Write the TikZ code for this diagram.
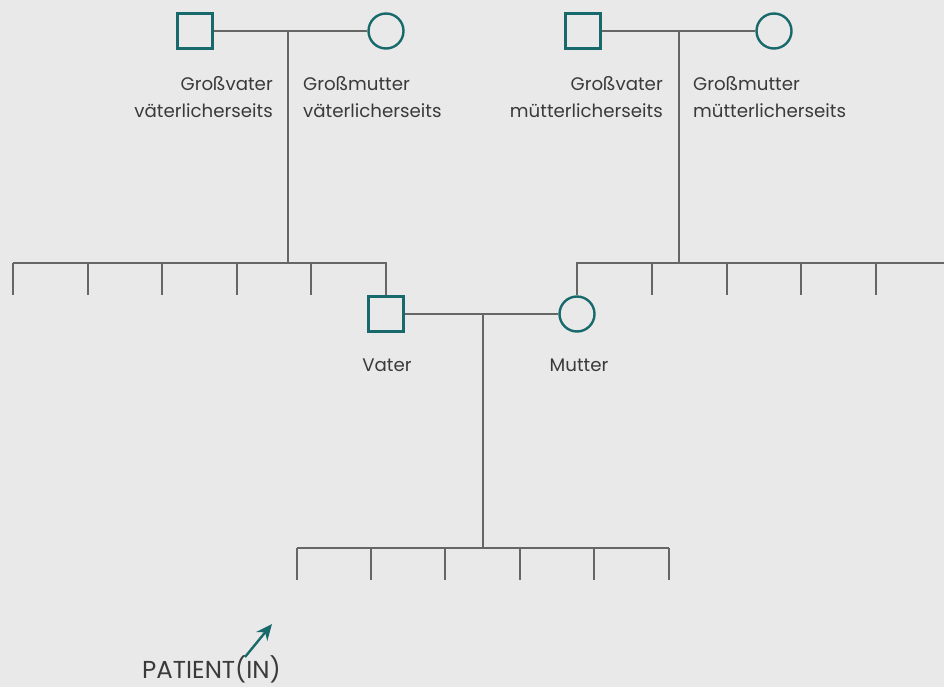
\documentclass[tikz,border=0pt]{standalone}
\usepackage{fontspec}
\setmainfont{Poppins}
\usetikzlibrary{arrows.meta}
\definecolor{bg}{HTML}{E9E9E9}
\definecolor{teal}{HTML}{17696B}
\definecolor{ln}{HTML}{666666}
\definecolor{tx}{HTML}{3A3A3A}
\begin{document}
\begin{tikzpicture}[x=1pt,y=-1pt,
  male/.style={draw=teal,line width=2.4pt,minimum size=35pt,inner sep=0pt},
  female/.style={draw=teal,line width=2.4pt,circle,minimum size=35pt,inner sep=0pt},
  rel/.style={draw=ln,line width=1.3pt},
  lbl/.style={text=tx,font=\fontsize{18.2}{27}\selectfont,inner sep=0pt},
  tick/.style={rel}]
\fill[bg] (0,0) rectangle (944,687);
\useasboundingbox (0,0) rectangle (944,687);
% grandparents
\node[male] (gvv) at (195,31) {};
\node[female] (gmv) at (386,31) {};
\node[male] (gvm) at (583,31) {};
\node[female] (gmm) at (774,31) {};
\coordinate (pv) at (288,31);
\coordinate (pm) at (679,31);
\draw[rel] (gvv) -- (gmv);
\draw[rel] (gvm) -- (gmm);
\node[lbl,anchor=north east,align=right] (l1) at (273,76) {Großvater\\väterlicherseits};
\node[lbl,anchor=north west,align=left] (l2) at (303,76) {Großmutter\\väterlicherseits};
\node[lbl,anchor=north east,align=right] (l3) at (663,76) {Großvater\\mütterlicherseits};
\node[lbl,anchor=north west,align=left] (l4) at (693,76) {Großmutter\\mütterlicherseits};
% parents
\node[male] (vater) at (386,314) {};
\node[female] (mutter) at (577,314) {};
\node[lbl] (lv) at (387,365) {Vater};
\node[lbl] (lm) at (579,365) {Mutter};
\draw[rel] (vater) -- (mutter);
% paternal siblings
\coordinate (pr) at (288,263);
\draw[rel] (pv) -- (pr);
\coordinate (ps1) at (13,263);
\coordinate (pse) at (386,263);
\draw[rel] (ps1) -- (pse) -- (vater.north);
\foreach \x/\n in {13/a,88/b,162/c,237/d,311/e}{
  \coordinate (pt\n) at (\x,263);
  \coordinate (pb\n) at (\x,295);
  \draw[tick] (pt\n) -- (pb\n);
}
% maternal siblings
\coordinate (mr) at (679,263);
\draw[rel] (pm) -- (mr);
\coordinate (ms1) at (577,263);
\coordinate (mse) at (944,263);
\draw[rel] (mutter.north) -- (ms1) -- (mse);
\foreach \x/\n in {652/a,727/b,801/c,876/d}{
  \coordinate (mt\n) at (\x,263);
  \coordinate (mb\n) at (\x,295);
  \draw[tick] (mt\n) -- (mb\n);
}
% children
\coordinate (cp) at (483,314);
\coordinate (cr) at (483,548);
\draw[rel] (cp) -- (cr);
\coordinate (c1) at (297,548);
\coordinate (ce) at (669,548);
\draw[rel] (c1) -- (ce);
\foreach \x/\n in {297/a,371/b,445/c,520/d,594/e,669/f}{
  \coordinate (ct\n) at (\x,548);
  \coordinate (cb\n) at (\x,580);
  \draw[tick] (ct\n) -- (cb\n);
}
% patient
\node[text=tx,font=\fontsize{24.5}{28}\selectfont,anchor=base west,inner sep=0pt] (pat) at (142,678) {PATIENT(IN)};
\coordinate (as) at (245,657);
\coordinate (ae) at (272,624);
\draw[teal,line width=2.4pt,-{Stealth[length=16pt,width=14pt]}] (as) -- (ae);
\end{tikzpicture}
\end{document}
